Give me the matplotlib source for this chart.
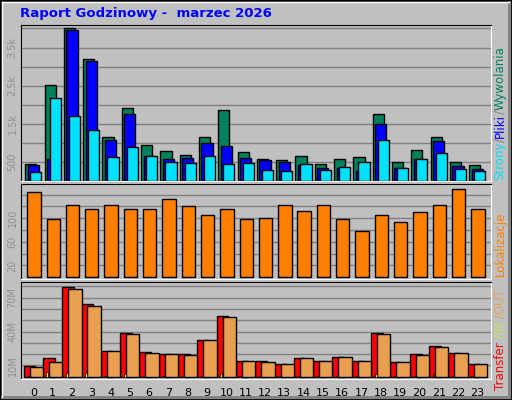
import matplotlib
matplotlib.use("Agg")
import matplotlib.pyplot as plt
from matplotlib.patches import Rectangle
from matplotlib.lines import Line2D

hours = list(range(24))
hits = [452, 2530, 4000, 3190, 1145, 1925, 950, 795, 690, 1145, 1870, 770, 585, 555, 660, 452, 585, 635, 1765, 505, 820, 1145, 505, 425]
files = [425, 585, 3950, 3135, 1085, 1765, 660, 585, 610, 1005, 925, 610, 555, 505, 425, 347, 347, 268, 1505, 347, 585, 1057, 400, 320]
pages = [242, 2188, 1715, 1347, 635, 900, 660, 505, 478, 660, 452, 478, 295, 268, 452, 295, 373, 505, 1085, 347, 585, 740, 320, 268]
sites = [144, 98, 122, 115, 123, 115, 115, 133, 120, 106, 115, 98, 100, 123, 113, 123, 98, 78, 105, 93, 110, 122, 149, 115]
kbytes = [9.1, 16.2, 79.7, 64.7, 23.2, 39.1, 21.5, 19.7, 19.7, 32.9, 54.1, 13.5, 13.5, 10.9, 16.2, 13.5, 17.1, 13.5, 39.1, 12.6, 19.7, 26.8, 21.2, 10.9]
kout = [8.2, 12.6, 77.9, 62.9, 22.4, 38.2, 21.2, 19.7, 18.8, 32.1, 53.2, 13.5, 12.6, 10.9, 16.2, 13.5, 17.1, 13.5, 38.2, 12.6, 18.8, 25.9, 21.2, 10.9]
kin = [0.5, 3.8, 2.9, 2.9, 0.5, 2.0, 0.5, 0.5, 0.5, 0.5, 2.0, 0.5, 0.5, 0.5, 0.5, 0.5, 0.5, 0.5, 2.0, 0.5, 0.5, 2.0, 0.5, 0.5]

BG = "#C0C0C0"
W, H = 512, 400
fig = plt.figure(figsize=(5.12, 4.0), dpi=100, facecolor=BG)

def ax_px(x0, y0, x1, y1):
    return fig.add_axes([x0 / W, 1 - y1 / H, (x1 - x0) / W, (y1 - y0) / H])

def setup(ax, ylim, grid, labels):
    ax.set_facecolor(BG)
    ax.set_xlim(-0.64, 23.71)
    ax.set_ylim(*ylim)
    for g in grid:
        ax.axhline(g, color="#808080", lw=1, zorder=0)
    ax.set_xticks([]); ax.set_yticks([])
    for s in ["left", "top"]:
        ax.spines[s].set_color("black")
    for s in ["right", "bottom"]:
        ax.spines[s].set_color("white")
    for v, t in labels:
        ax.text(-8.5 / 470, v, t, transform=ax.get_yaxis_transform(), rotation=90,
                ha="center", va="center", color="#909090", fontsize=7)

bkw = dict(edgecolor="black", linewidth=1, zorder=2)
ax1 = ax_px(21, 25, 491, 181)
setup(ax1, (0, 4090), range(500, 4001, 500), [(500, "500"), (1500, "1.5k"), (2500, "2.5k"), (3500, "3.5k")])
x = [h for h in hours]
ax1.bar([h - 0.13 for h in x], hits, width=0.58, color="#00805C", **bkw)
ax1.bar(x, files, width=0.58, color="#0000FF", **bkw)
ax1.bar([h + 0.13 for h in x], pages, width=0.58, color="#00E0FF", **bkw)

ax2 = ax_px(21, 184, 491, 279)
setup(ax2, (-2.9, 158), range(20, 141, 20), [(20, "20"), (60, "60"), (100, "100")])
ax2.bar([h + 0.03 for h in x], sites, width=0.69, color="#FF8000", **bkw)

ax3 = ax_px(21, 282, 491, 379)
setup(ax3, (-2, 83.8), range(10, 81, 10), [(10, "10M"), (40, "40M"), (70, "70M")])
ax3.bar([h - 0.2 for h in x], kbytes, width=0.62, color="#FF0000", **bkw)
ax3.bar([h - 0.27 for h in x], kin, width=0.1, color="#FFFF00", edgecolor="black", linewidth=0.5, zorder=3)
ax3.bar([h + 0.15 for h in x], kout, width=0.69, color="#E8A050", **bkw)
for h in hours:
    ax3.text(h, -0.09, str(h), transform=ax3.get_xaxis_transform(), ha="center", va="top", fontsize=8)

fig.text(20 / W, 1 - 14 / H, "Raport Godzinowy -  marzec 2026", color="#0000FF",
         fontsize=9.5, fontweight="bold", va="center", ha="left")

def stacked(parts, xpx, ybot_px):
    fig.canvas.draw()
    r = fig.canvas.get_renderer()
    y = 1 - ybot_px / H
    for t, c in parts:
        tt = fig.text(xpx / W, y, t, color=c, rotation=90, fontsize=8.5, ha="center", va="bottom")
        bb = tt.get_window_extent(r)
        y += bb.height / H

stacked([("Strony", "#00E0FF"), ("/", "#808080"), ("Pliki", "#0000FF"), ("/", "#808080"), ("Wywolania", "#00805C")], 500, 180)
stacked([("Lokalizacje", "#FF8000")], 500, 276)
stacked([("Transfer", "#FF0000"), (" /IN", "#C0E060"), (" /OUT", "#E8A050")], 500, 390)

fig.add_artist(Rectangle((0, 0), 1, 1, transform=fig.transFigure, fill=False, edgecolor="black", lw=2))
fig.add_artist(Line2D([2 / W, 1 - 3 / W], [3 / H, 3 / H], color="#808080", lw=2, transform=fig.transFigure))
fig.add_artist(Line2D([1 - 3 / W, 1 - 3 / W], [3 / H, 1 - 2 / H], color="#808080", lw=2, transform=fig.transFigure))
fig.add_artist(Line2D([2 / W, 2 / W], [3 / H, 1 - 2 / H], color="white", lw=1, transform=fig.transFigure))
fig.add_artist(Line2D([2 / W, 1 - 3 / W], [1 - 2 / H, 1 - 2 / H], color="white", lw=1, transform=fig.transFigure))

fig.savefig("out.png", dpi=100, facecolor=BG)
